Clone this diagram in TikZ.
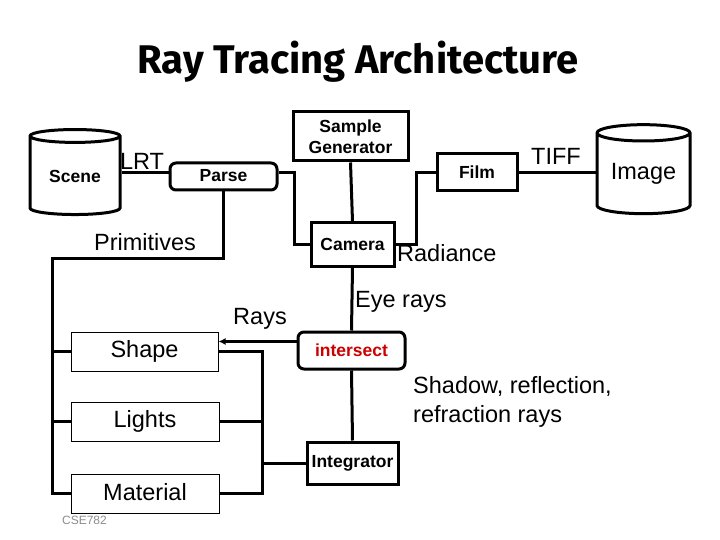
\documentclass[tikz,border=0pt]{standalone}
\usepackage{fontspec}
\setmainfont{Liberation Sans}
\newfontfamily\titlefont{Fira Sans}
\usetikzlibrary{shapes.geometric,arrows.meta}

\begin{document}
\begin{tikzpicture}[x=1pt,y=-1pt,
  lbl/.style={font=\fontsize{23.5}{29}\selectfont,inner sep=0pt},
  bbox/.style={draw,line width=3pt,inner sep=0pt,font=\fontsize{17.5}{21}\selectfont\bfseries},
  rbox/.style={bbox,rounded corners=6pt},
  tbox/.style={draw,line width=1pt,inner sep=0pt,font=\fontsize{23.5}{26}\selectfont},
  db/.style={draw,line width=3pt,cylinder,shape border rotate=90,aspect=0.25,inner sep=0pt},
  wire/.style={line width=3pt}]
\useasboundingbox (0,0) rectangle (720,540);

% title
\node (title) at (358,62) {\titlefont\bfseries\fontsize{40}{44}\selectfont Ray Tracing Architecture};

% top row
\node [db,minimum width=90pt,minimum height=85pt,font=\fontsize{17.5}{21}\selectfont\bfseries] (scene) at (75,176) {\raisebox{-3pt}{Scene}};
\node [rbox,minimum width=107pt,minimum height=27pt] (parse) at (223.5,176.5) {\raisebox{3pt}{Parse}};
\node [bbox,minimum width=115pt,minimum height=49pt,align=center] (sample) at (350.5,136.5) {Sample\\Generator};
\node [bbox,minimum width=83pt,minimum height=43pt] (camera) at (352.5,244.5) {Camera};
\node [bbox,minimum width=80pt,minimum height=37pt] (film) at (477,172.5) {Film};
\node [db,minimum width=93pt,minimum height=89pt,font=\fontsize{23.5}{26}\selectfont] (image) at (643.5,174) {Image};

% middle / bottom
\node [rbox,minimum width=107pt,minimum height=37pt,text=red!80!black] (isect) at (351.5,350.5) {intersect};
\node [bbox,minimum width=91pt,minimum height=42pt] (integ) at (352.5,463) {Integrator};
\node [tbox,minimum width=147pt,minimum height=39pt] (shape) at (144.5,351.5) {\raisebox{3pt}{Shape}};
\node [tbox,minimum width=148pt,minimum height=39pt] (lights) at (145,421.5) {\raisebox{3pt}{Lights}};
\node [tbox,minimum width=148pt,minimum height=39pt] (material) at (145,493.5) {\raisebox{3pt}{Material}};
\coordinate (busL) at (52,258);
\coordinate (busR) at (262,349);

% connectors
\draw [wire] ([yshift=3.5pt]parse.west) -- ([yshift=3.5pt]parse.west -| scene.east);
\draw [wire] ([yshift=3.5pt]parse.east) -- ++(16,0) |- (camera.west);
\draw [wire] (sample.south) -- (camera.north);
\draw [wire] (camera.east) -- ++(21,0) |- (film.west);
\draw [wire] (film.east) -- (film.east -| image.west);
\draw [wire] (camera.south) -- (isect.north);
\draw [wire] (isect.south) -- (integ.north);
\draw [wire] (parse.south) |- (busL) |- (material.west);
\draw [wire] (busL |- shape.west) -- (shape.west);
\draw [wire] (busL |- lights.west) -- (lights.west);
\draw [wire] (shape.east) -| (busR |- material.east) -- (material.east);
\draw [wire] (lights.east) -- (lights.east -| busR);
\draw [wire] (integ.west) -- (integ.west -| busR);
\draw [wire,-{Latex[length=7pt,width=7pt]}] ([yshift=9pt]isect.west) -- ([yshift=9pt]isect.west -| shape.east);

% labels
\node [lbl,anchor=base] (lrt) at (142,170) {LRT};
\node [lbl] (prim) at (145,242) {Primitives};
\node [lbl,anchor=base] (tiff) at (556,165) {TIFF};
\node [lbl,anchor=west] (rad) at (397,253) {Radiance};
\node [lbl] (rays) at (260,319) {Rays};
\node [lbl,anchor=west] (eye) at (355,302) {Eye rays};
\node [lbl,anchor=west,align=left] (shadow) at (413,402) {Shadow, reflection,\\refraction rays};
\node [font=\fontsize{12}{14}\selectfont,text=black!45,inner sep=0pt] (cse) at (84.5,520) {CSE782};
\end{tikzpicture}
\end{document}
